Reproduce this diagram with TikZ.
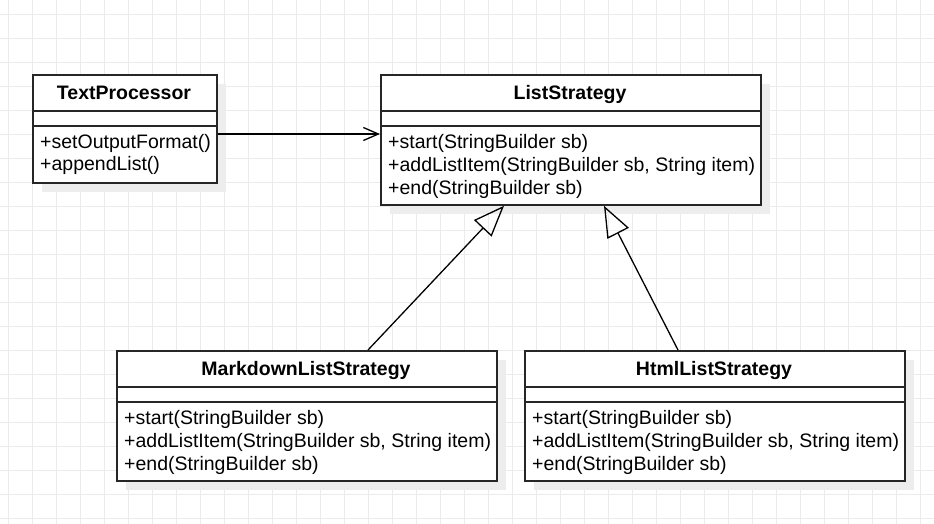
\documentclass[tikz,border=0pt]{standalone}
\usepackage{fontspec}
\setmainfont{Liberation Sans}
\usetikzlibrary{arrows.meta, positioning, calc}

\begin{document}
\begin{tikzpicture}[x=1pt, y=-1pt,
    gridline/.style={black!8, line width=0.8pt},
    shade/.style={fill=black!7},
    classbox/.style={draw=black!85, line width=1.8pt, fill=white, anchor=north west, inner sep=0pt},
    divider/.style={draw=black!85, line width=1.8pt},
    classname/.style={font=\fontsize{19.5}{23}\selectfont\bfseries, anchor=base, inner sep=0pt},
    ops/.style={font=\fontsize{19.5}{23}\selectfont, align=left, anchor=base west, inner sep=0pt},
    assoc/.style={-{Straight Barb[length=15pt, width=13pt]}, line width=1.3pt},
    inherit/.style={-{Triangle[open, length=31pt, width=24pt]}, line width=1.3pt}]
  % Page and grid
  \useasboundingbox (0,0) rectangle (934,524);
  \fill[white] (0,0) rectangle (934,524);
  \foreach \gx in {8,32,...,920} \draw[gridline] (\gx,0) -- (\gx,524);
  \foreach \gy in {14,38,...,518} \draw[gridline] (0,\gy) -- (934,\gy);
  % Shadows
  \fill[shade] (42,84) rectangle (226,192);
  \fill[shade] (390,84) rectangle (770,214);
  \fill[shade] (126,360) rectangle (506,490);
  \fill[shade] (534,360) rectangle (914,490);
  % TextProcessor
  \node[classbox, minimum width=184pt, minimum height=108pt] (tp) at (32,74) {};
  \node[classname] (tpname) at (124,99.5) {TextProcessor};
  \draw[divider] ($(tp.north west)+(0,37)$) -- ($(tp.north east)+(0,37)$);
  \draw[divider] ($(tp.north west)+(0,52)$) -- ($(tp.north east)+(0,52)$);
  % (base of a multi-line node = last line)
  \node[ops] (tpops) at (40,171) {+setOutputFormat()\\+appendList()};
  % ListStrategy
  \node[classbox, minimum width=380pt, minimum height=130pt] (ls) at (380,74) {};
  \node[classname] (lsname) at (570,99.5) {ListStrategy};
  \draw[divider] ($(ls.north west)+(0,37)$) -- ($(ls.north east)+(0,37)$);
  \draw[divider] ($(ls.north west)+(0,52)$) -- ($(ls.north east)+(0,52)$);
  \node[ops] (lsops) at (388,194)
    {+start(StringBuilder sb)\\+addListItem(StringBuilder sb, String item)\\+end(StringBuilder sb)};
  % MarkdownListStrategy
  \node[classbox, minimum width=380pt, minimum height=130pt] (md) at (116,350) {};
  \node[classname] (mdname) at (306,375.5) {MarkdownListStrategy};
  \draw[divider] ($(md.north west)+(0,37)$) -- ($(md.north east)+(0,37)$);
  \draw[divider] ($(md.north west)+(0,52)$) -- ($(md.north east)+(0,52)$);
  \node[ops] (mdops) at (124,470)
    {+start(StringBuilder sb)\\+addListItem(StringBuilder sb, String item)\\+end(StringBuilder sb)};
  % HtmlListStrategy
  \node[classbox, minimum width=380pt, minimum height=130pt] (html) at (524,350) {};
  \node[classname] (htmlname) at (714,375.5) {HtmlListStrategy};
  \draw[divider] ($(html.north west)+(0,37)$) -- ($(html.north east)+(0,37)$);
  \draw[divider] ($(html.north west)+(0,52)$) -- ($(html.north east)+(0,52)$);
  \node[ops] (htmlops) at (532,470)
    {+start(StringBuilder sb)\\+addListItem(StringBuilder sb, String item)\\+end(StringBuilder sb)};
  % Relations
  \draw[assoc] ($(tp.north east)+(0,60)$) -- ($(ls.north west)+(0,60)$);
  \draw[inherit] ($(md.north west)+(252,0)$) -- ($(ls.south west)+(124,0)$);
  \draw[inherit] ($(html.north west)+(154,0)$) -- ($(ls.south west)+(224,0)$);
\end{tikzpicture}
\end{document}
